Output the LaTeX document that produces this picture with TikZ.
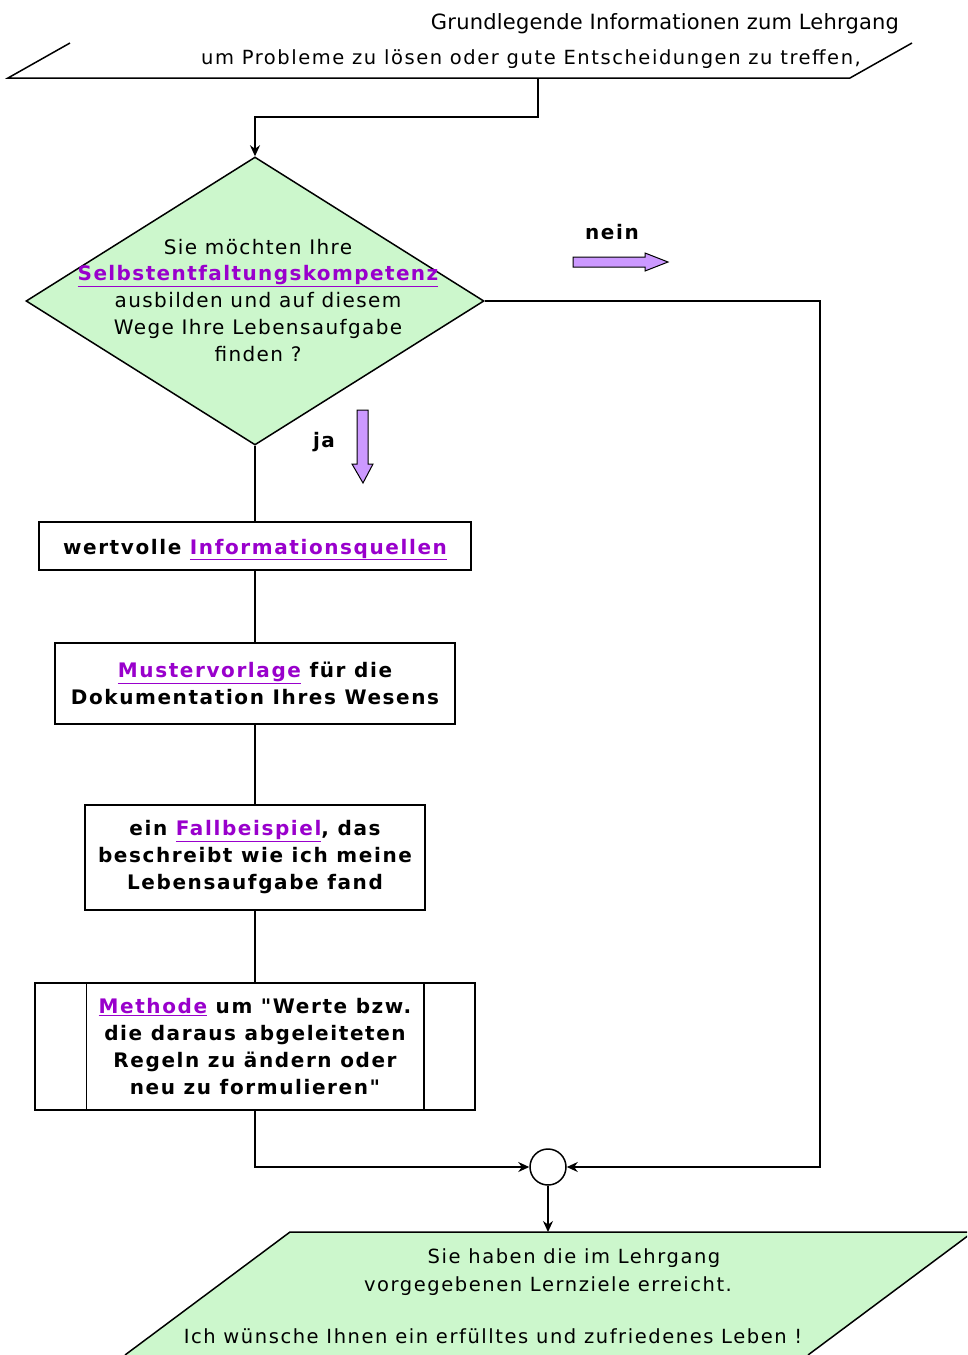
\documentclass[tikz,border=0pt]{standalone}
\usepackage{fontspec}
\setmainfont{DejaVu Sans}
\newfontfamily\boxfont[LetterSpace=8]{DejaVu Sans}
\newfontfamily\dfont[LetterSpace=7]{DejaVu Sans}
\newfontfamily\tfont[LetterSpace=8]{DejaVu Sans}
\newfontfamily\hfont[LetterSpace=1]{DejaVu Sans}
\usetikzlibrary{shapes.geometric,arrows.meta}
\definecolor{lnk}{HTML}{9900CC}
\definecolor{fillgreen}{HTML}{CCF7CC}
\definecolor{lilac}{HTML}{CC99FF}
\newcommand\hyper[1]{\textcolor{lnk}{\underline{#1}}}
\tikzset{
  line/.style={line width=1.5pt, draw=black},
  conn/.style={line, -{Stealth[length=11pt,width=10pt]}},
  stepbox/.style={draw=black, line width=1.5pt, fill=white, inner sep=0pt,
    align=center, font=\boxfont\bfseries\fontsize{20}{27}\selectfont},
  dtext/.style={align=center, inner sep=0pt, font=\dfont\fontsize{20}{27}\selectfont},
  ttext/.style={inner sep=0pt, font=\tfont\fontsize{19.5}{28}\selectfont},
  htext/.style={inner sep=0pt, font=\hfont\fontsize{21}{28}\selectfont},
  lbl/.style={inner sep=0pt, font=\boxfont\bfseries\fontsize{20}{24}\selectfont},
  blockarrow/.style={draw=black, line width=1pt, fill=lilac}
}
\begin{document}
\begin{tikzpicture}[x=1pt,y=-1pt]
\clip (0,0) rectangle (967,1355);
\fill[white] (0,0) rectangle (967,1355);

% input parallelogram at the top
\draw[line] (70,43) -- (8,78) -- (850,78) -- (912,43);
\node[htext, anchor=base] (head) at (665,29) {Grundlegende Informationen zum Lehrgang};
\node[ttext, anchor=base] (intro) at (531,64) {um Probleme zu lösen oder gute Entscheidungen zu treffen,};
\coordinate (start) at (538,78);

% decision
\node[diamond, draw=black, line width=1.5pt, fill=fillgreen, inner sep=0pt,
      minimum width=458pt, minimum height=288pt] (dia) at (255,301) {};
\node[dtext] (q) at (258,301) {Sie möchten Ihre\\[-1pt]
  {\bfseries\hyper{Selbstentfaltungskompetenz}}\\
  ausbilden und auf diesem\\
  Wege Ihre Lebensaufgabe\\
  finden ?};

% process steps
\node[stepbox, minimum width=432pt, minimum height=48pt, text height=16pt, text depth=0pt] (b1) at (255,546)
  {wertvolle \hyper{Informationsquellen}};
\node[stepbox, minimum width=400pt, minimum height=81pt] (b2) at (255,683.5)
  {\hyper{Mustervorlage} für die\\Dokumentation Ihres Wesens};
\node[stepbox, minimum width=340pt, minimum height=105pt] (b3) at (255,857.5)
  {ein \hyper{Fallbeispiel}, das\\beschreibt wie ich meine\\Lebensaufgabe fand};
\node[stepbox, minimum width=440pt, minimum height=127pt] (b4) at (255,1046.5)
  {\hyper{Methode} um "Werte bzw.\\die daraus abgeleiteten\\Regeln zu ändern oder\\neu zu formulieren"};
\draw[line] ([xshift=52pt]b4.north west) -- ([xshift=52pt]b4.south west);
\draw[line] ([xshift=-52pt]b4.north east) -- ([xshift=-52pt]b4.south east);

% junction
\node[circle, draw=black, line width=1.5pt, fill=white, minimum size=36pt, inner sep=0pt] (join) at (548,1167) {};
\coordinate (rc) at (820,1167);

% output parallelogram at the bottom
\fill[fillgreen] (290,1232) -- (973,1232) -- (808,1355) -- (125,1355) -- cycle;
\draw[line] (125,1355) -- (290,1232) -- (973,1232) -- (808,1355);
\coordinate (goal) at (548,1232);
\node[ttext, anchor=base] (r1) at (574,1263) {Sie haben die im Lehrgang};
\node[ttext, anchor=base] (r2) at (548,1291) {vorgegebenen Lernziele erreicht.};
\node[ttext, anchor=base] (r3) at (493,1343) {Ich wünsche Ihnen ein erfülltes und zufriedenes Leben !};

% connectors
\draw[conn] (start) -- ++(0,39) -| (dia.north);
\draw[line] (dia.south) -- (b1.north);
\draw[line] (b1.south) -- (b2.north);
\draw[line] (b2.south) -- (b3.north);
\draw[line] (b3.south) -- (b4.north);
\draw[conn] (b4.south) |- (join.west);
\draw[conn] (dia.east) -| (rc) -- (join.east);
\draw[conn] (join.south) -- (goal);

% branch labels with block arrows
\node[lbl] (nein) at (612,232) {nein};
\draw[blockarrow] (573,257) -- (645,257) -- (645,253) -- (668,262) -- (645,271) -- (645,267) -- (573,267) -- cycle;
\node[lbl] (ja) at (324,442) {ja};
\draw[blockarrow] (357,410) -- (368,410) -- (368,464) -- (373,464) -- (363,483) -- (352,464) -- (357,464) -- cycle;
\end{tikzpicture}
\end{document}
